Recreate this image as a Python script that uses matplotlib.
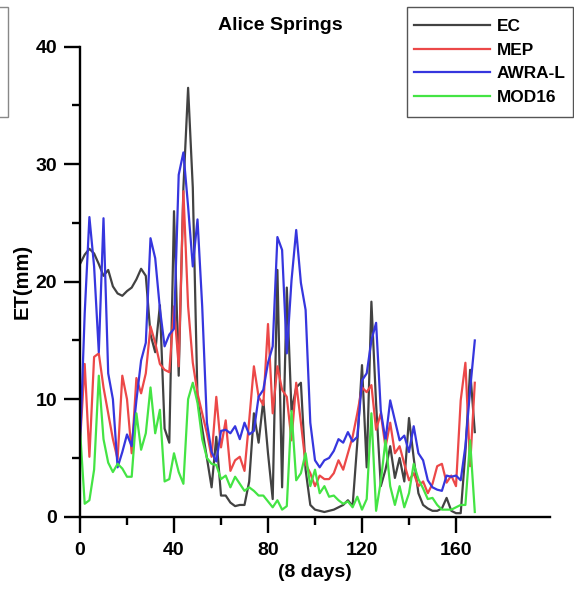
import matplotlib
matplotlib.use('Agg')
import matplotlib.pyplot as plt
import numpy as np
from matplotlib.patches import Rectangle

# 8-day steps, read every second step off the picture
steps = list(range(0, 170, 2))

ec = [21.5, 22.3, 22.8, 22.4, 21.5, 20.5, 21.0, 19.6, 19.0, 18.8,
      19.2, 19.5, 20.2, 21.1, 20.5, 15.5, 14.0, 18.0, 7.5, 6.3,
      26.0, 12.0, 28.0, 36.5, 28.0, 10.0, 7.5, 5.0, 2.5, 6.8,
      1.8, 1.8, 1.2, 0.9, 1.0, 1.0, 3.0, 8.8, 6.3, 9.9,
      5.4, 1.5, 21.0, 2.5, 19.5, 9.0, 11.0, 11.4, 4.0, 1.0,
      0.6, 0.5, 0.4, 0.5, 0.6, 0.8, 1.0, 1.4, 0.9, 6.3,
      12.9, 4.2, 18.3, 9.6, 2.6, 4.0, 6.0, 3.3, 5.0, 3.0,
      8.4, 5.0, 2.0, 1.0, 0.7, 0.5, 0.5, 0.7, 1.6, 0.5,
      0.3, 0.3, 5.5, 12.5, 7.2]

mep = [6.3, 13.0, 5.1, 13.6, 13.9, 11.0, 8.8, 6.6, 4.9, 12.0,
       10.0, 5.4, 11.8, 10.5, 12.2, 16.2, 14.8, 13.0, 12.5, 12.3,
       17.9, 12.8, 27.7, 17.9, 13.1, 10.5, 8.8, 7.1, 5.1, 10.2,
       5.9, 8.2, 3.9, 4.8, 5.1, 3.9, 8.2, 12.8, 10.2, 9.5,
       16.4, 8.8, 12.8, 10.8, 10.2, 6.5, 11.4, 8.0, 4.5, 3.7,
       2.6, 3.5, 3.2, 3.2, 3.7, 4.8, 4.0, 5.4, 6.8, 8.8,
       11.0, 10.6, 11.2, 7.4, 8.8, 5.9, 8.0, 5.4, 6.0, 4.5,
       3.1, 3.7, 2.6, 3.0, 2.0, 2.8, 4.3, 4.5, 2.9, 3.5,
       2.6, 9.9, 13.1, 4.3, 11.4]

awra = [6.0, 17.3, 25.5, 21.3, 14.0, 25.4, 12.2, 10.0, 4.2, 5.5,
        7.0, 6.0, 9.9, 13.3, 14.8, 23.7, 22.0, 17.7, 14.5, 15.5,
        16.0, 29.1, 31.0, 26.4, 21.3, 25.3, 17.9, 8.0, 5.5, 4.7,
        7.3, 7.4, 7.1, 7.7, 6.6, 8.0, 7.0, 7.3, 10.2, 10.8,
        13.1, 14.5, 23.8, 22.7, 13.9, 20.1, 24.4, 19.9, 17.6, 8.0,
        4.8, 4.2, 4.8, 5.0, 5.6, 6.6, 6.3, 7.2, 6.4, 6.8,
        11.6, 12.2, 15.0, 16.5, 9.0, 6.5, 9.9, 8.2, 6.5, 6.9,
        5.5, 7.7, 5.4, 4.8, 3.1, 2.5, 2.3, 2.2, 3.5, 3.4,
        3.5, 3.1, 6.0, 10.8, 15.0]

mod16 = [7.4, 1.1, 1.4, 4.0, 12.0, 6.6, 4.6, 3.8, 4.5, 4.1,
         3.4, 3.4, 8.8, 5.7, 7.1, 11.0, 7.1, 9.1, 3.0, 3.2,
         5.4, 3.8, 2.8, 10.0, 11.4, 9.7, 6.6, 5.0, 4.5, 4.4,
         3.2, 3.5, 2.5, 3.4, 2.8, 2.2, 2.5, 2.2, 1.8, 1.8,
         1.3, 0.8, 1.4, 0.6, 0.9, 9.0, 3.1, 3.7, 5.4, 2.6,
         4.0, 2.0, 2.6, 1.7, 1.8, 1.4, 1.1, 1.3, 0.8, 1.7,
         0.6, 1.5, 8.8, 0.5, 3.0, 6.5, 2.6, 1.0, 2.6, 0.8,
         2.0, 4.5, 3.2, 2.4, 1.5, 1.6, 1.0, 0.6, 0.6, 0.6,
         0.8, 1.0, 1.0, 6.5, 0.4]

names = ['EC', 'MEP', 'AWRA-L', 'MOD16']
colors = ['#424242', '#ec4848', '#3636de', '#44e444']

plt.rcParams['font.family'] = ['Liberation Sans', 'DejaVu Sans']
plt.rcParams['font.weight'] = 'bold'

fig = plt.figure(figsize=(5.74, 5.9), dpi=100)
ax = fig.add_axes([80/574, 73.3/590, 470/574, 470/590])

for ys, nm, c in zip([ec, mep, awra, mod16], names, colors):
    ax.plot(steps, ys, color=c, lw=1.6, label=nm)

ax.set_xlim(0, 200)
ax.set_ylim(0, 40)
ax.set_xticks([0, 40, 80, 120, 160])
ax.set_xticks([20, 60, 100, 140], minor=True)
ax.set_yticks([0, 10, 20, 30, 40])
ax.set_yticks([5, 15, 25, 35], minor=True)
for s in ['top', 'right']:
    ax.spines[s].set_visible(False)
for s in ['left', 'bottom']:
    ax.spines[s].set_linewidth(1.7)
ax.tick_params(which='major', length=11.5, width=1.7, labelsize=14)
ax.tick_params(axis='x', which='major', pad=7)
ax.tick_params(axis='y', which='major', pad=5)
ax.tick_params(which='minor', length=6, width=1.7)
for lb in ax.get_xticklabels() + ax.get_yticklabels():
    lb.set_fontweight('bold')

ax.set_xlabel('(8 days)', fontsize=14, fontweight='bold', labelpad=3)
ax.set_ylabel('ET(mm)', fontsize=14.5, fontweight='bold', labelpad=3)
fig.text(280/574, 1 - 25/590, 'Alice Springs', ha='center', va='center',
         fontsize=14, fontweight='bold')

# legend entries without frame; the box is drawn separately
leg = fig.legend(loc='upper left', bbox_to_anchor=(414/574, 1 - 19/590),
                 fontsize=12.4, handlelength=4.4, frameon=False,
                 borderpad=0, labelspacing=0.49, handletextpad=0.4,
                 borderaxespad=0)
for t in leg.get_texts():
    t.set_fontweight('bold')
fig.patches.append(Rectangle((407/574, 1 - 117/590), 166/574, 110/590,
                             transform=fig.transFigure, fill=False,
                             edgecolor='#555555', lw=1.0))

# clipped legend box of the neighbouring panel at the left edge
fig.patches.append(Rectangle((-0.05, 1 - 117/590), 0.05 + 8/574, 110/590,
                             transform=fig.transFigure, fill=False,
                             edgecolor='#888888', lw=1.0))

plt.savefig('out.png', dpi=100)
